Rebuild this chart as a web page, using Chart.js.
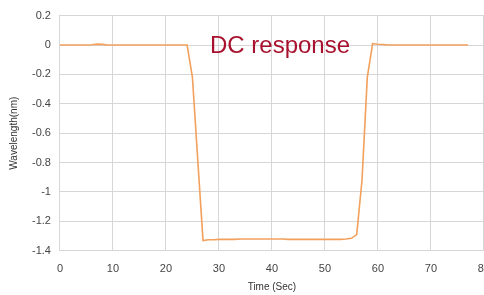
<!DOCTYPE html>
<html>
<head>
<meta charset="utf-8">
<script src="https://cdn.jsdelivr.net/npm/chart.js@4"></script>
<style>
  html, body { margin: 0; padding: 0; background: #fff; overflow: hidden; }
  #wrap { width: 502px; height: 295px; position: relative; }
</style>
</head>
<body>
<div id="wrap"><canvas id="dcChart"></canvas></div>
<script>
// time in seconds, one sample per second
const times = [
  0,1,2,3,4,5,6,7,8,9,10,11,12,13,14,15,16,17,18,19,
  20,21,22,23,24,25,26,27,28,29,30,31,32,33,34,35,36,37,38,39,
  40,41,42,43,44,45,46,47,48,49,50,51,52,53,54,55,56,57,58,59,
  60,61,62,63,64,65,66,67,68,69,70,71,72,73,74,75,76,77
];
// wavelength shift (nm)
const wavelength = [
  0,0,0,0,0,0,0.002,0.006,0.004,0,0,0,0,0,0,0,0,0,0,0,
  0,0,0,0,0,-0.22,-0.78,-1.33,-1.325,-1.325,-1.322,-1.322,-1.322,-1.322,-1.32,-1.32,-1.32,-1.32,-1.32,-1.32,
  -1.32,-1.32,-1.32,-1.322,-1.322,-1.322,-1.322,-1.322,-1.322,-1.322,-1.322,-1.322,-1.322,-1.322,-1.32,-1.315,-1.29,-0.92,-0.22,0.01,
  0.005,0.003,0,0,0,0,0,0,0,0,0,0,0,0,0,0,0,0
];
const yTicks = [0.2, 0, -0.2, -0.4, -0.6, -0.8, -1, -1.2, -1.4];
const xTicks = [0, 10, 20, 30, 40, 50, 60, 70, 80];

const points = times.map((t, i) => ({ x: t, y: wavelength[i] }));

// caption inside the plot
const caption = {
  id: 'caption',
  afterDatasetsDraw(chart) {
    const c = chart.ctx;
    c.save();
    c.font = '24px "Liberation Sans", Arial, sans-serif';
    c.fillStyle = '#a8122e';
    c.textBaseline = 'alphabetic';
    c.fillText('DC response', 210, 53);
    c.restore();
  }
};

const ctx = document.getElementById('dcChart');
new Chart(ctx, {
  type: 'line',
  data: {
    datasets: [{
      label: 'DC response',
      data: points,
      borderColor: '#f2a05c',
      borderWidth: 1.6,
      pointRadius: 0,
      tension: 0,
      fill: false
    }]
  },
  options: {
    responsive: true,
    maintainAspectRatio: false,
    animation: false,
    layout: { padding: { top: 4, left: 8, right: 0, bottom: 0 } },
    plugins: { legend: { display: false }, tooltip: { enabled: false } },
    scales: {
      x: {
        type: 'linear',
        min: 0, max: 80,
        afterBuildTicks: s => { s.ticks = xTicks.map(v => ({ value: v })); },
        grid: { color: '#d6d6d6', drawTicks: false },
        border: { color: '#d6d6d6' },
        ticks: { color: '#444', font: { family: '"Liberation Sans", Arial', size: 11 }, padding: 12, maxRotation: 0 },
        title: { display: true, text: 'Time (Sec)', color: '#333', font: { family: '"Liberation Sans", Arial', size: 10, lineHeight: 1 }, padding: { top: -6, bottom: 3 } }
      },
      y: {
        min: -1.4, max: 0.2,
        afterBuildTicks: s => { s.ticks = yTicks.map(v => ({ value: v })); },
        grid: { color: '#d6d6d6', drawTicks: false },
        border: { color: '#d6d6d6' },
        ticks: { color: '#444', font: { family: '"Liberation Sans", Arial', size: 11 }, padding: 9,
          callback: v => String(Number(v.toFixed(1))) },
        title: { display: true, text: 'Wavelength(nm)', color: '#333', font: { family: '"Liberation Sans", Arial', size: 10 }, padding: { top: 0, bottom: 3 } }
      }
    }
  },
  plugins: [caption]
});
</script>
</body>
</html>
